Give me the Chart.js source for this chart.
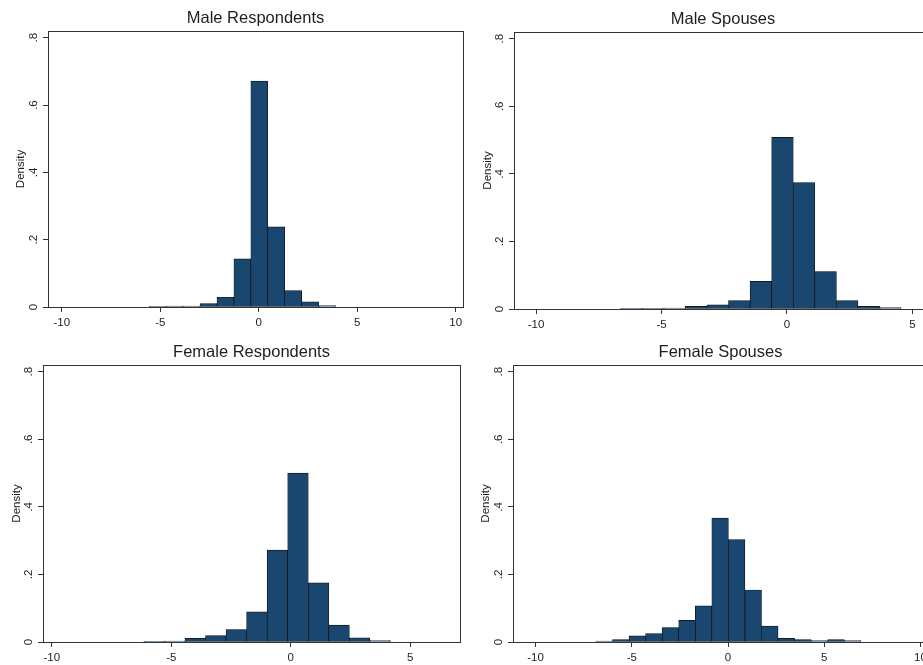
<!DOCTYPE html>
<html lang="en">
<head>
<meta charset="UTF-8">
<title>Density | Respondents and Spouses</title>
<script src="https://cdn.jsdelivr.net/npm/chart.js@4.4.1/dist/chart.umd.min.js"></script>
<style>
  html, body { margin: 0; padding: 0; background: #fff; overflow: hidden; }
  body { width: 923px; height: 665px; position: relative; }
  canvas { position: absolute; }
</style>
</head>
<body>

<canvas id="chart1"></canvas>
<canvas id="chart2"></canvas>
<canvas id="chart3"></canvas>
<canvas id="chart4"></canvas>

<script>
// eixos comuns
const xTickValues = [-10, -5, 0, 5, 10];
const yTickValues = [0, 0.2, 0.4, 0.6, 0.8];
const yTickLabels = ['0', '.2', '.4', '.6', '.8'];

// Male Respondents - centro das classes e densidade
const maleRespX = [-5.13, -4.27, -3.41, -2.55, -1.69, -0.83, 0.03, 0.89, 1.75, 2.61, 3.47];
const maleRespY = [0.002, 0.003, 0.003, 0.010, 0.029, 0.143, 0.671, 0.238, 0.049, 0.015, 0.004];

// Male Spouses
const maleSpX = [-6.20, -5.34, -4.48, -3.62, -2.76, -1.90, -1.04, -0.18, 0.68, 1.54, 2.40, 3.26, 4.12];
const maleSpY = [0.002, 0.002, 0.003, 0.008, 0.012, 0.025, 0.082, 0.508, 0.374, 0.111, 0.025, 0.008, 0.004];

// Female Respondents
const femRespX = [-5.72, -4.86, -4.00, -3.14, -2.28, -1.42, -0.56, 0.30, 1.16, 2.02, 2.88, 3.74];
const femRespY = [0.002, 0.003, 0.011, 0.019, 0.037, 0.089, 0.272, 0.500, 0.175, 0.050, 0.012, 0.004];

// Female Spouses
const femSpX = [-6.43, -5.57, -4.71, -3.85, -2.99, -2.13, -1.27, -0.41, 0.45, 1.31, 2.17, 3.03, 3.89, 4.75, 5.61, 6.47];
const femSpY = [0.003, 0.007, 0.018, 0.025, 0.043, 0.064, 0.107, 0.367, 0.303, 0.154, 0.047, 0.011, 0.007, 0.004, 0.007, 0.004];

const corBarra = '#1a476f';
const corBorda = '#0d0d0d';
const corEixo = '#333333';
const corTexto = '#1e1e1e';
const fonte = "'Liberation Sans', Arial, sans-serif";

// posicao de cada painel na pagina (canvas) e da area do grafico
const paineis = [
  { id: 'chart1', titulo: 'Male Respondents', xs: maleRespX, ys: maleRespY,
    left: 0, top: 0, w: 470, h: 330, area: [48, 31, 463, 307], xMin: -10.70, xMax: 10.37, densX: 20.5 },
  { id: 'chart2', titulo: 'Male Spouses', xs: maleSpX, ys: maleSpY,
    left: 460, top: 0, w: 480, h: 330, area: [514, 32, 932, 309], xMin: -10.88, xMax: 5.78, densX: 28 },
  { id: 'chart3', titulo: 'Female Respondents', xs: femRespX, ys: femRespY,
    left: 0, top: 330, w: 470, h: 335, area: [43, 365, 460, 642], xMin: -10.37, xMax: 7.08, densX: 17.2 },
  { id: 'chart4', titulo: 'Female Spouses', xs: femSpX, ys: femSpY,
    left: 460, top: 330, w: 480, h: 335, area: [513, 365, 928, 642], xMin: -11.17, xMax: 10.39, densX: 26.2 }
];

// moldura em volta da area de plotagem (estilo Stata)
const moldura = {
  id: 'moldura',
  afterDraw(chart) {
    const { ctx, chartArea: a } = chart;
    ctx.save();
    ctx.strokeStyle = corEixo;
    ctx.lineWidth = 1;
    ctx.strokeRect(Math.round(a.left) + 0.5, Math.round(a.top) + 0.5,
      Math.round(a.right - a.left), Math.round(a.bottom - a.top));
    ctx.restore();
  }
};

function plotarPainel(p) {
  const canvas = document.getElementById(p.id);
  canvas.width = p.w;
  canvas.height = p.h;
  canvas.style.left = p.left + 'px';
  canvas.style.top = p.top + 'px';
  canvas.style.width = p.w + 'px';
  canvas.style.height = p.h + 'px';

  const [aL, aT, aR, aB] = p.area;
  const larguraY = aL - p.left;
  const alturaX = p.h - (aB - p.top);
  const blocoTitulo = aT - p.top;
  const linhaTitulo = 16.5 * 1.2;

  const dados = {
    datasets: [{
      label: p.titulo,
      data: p.xs.map((x, i) => ({ x: x, y: p.ys[i] })),
      backgroundColor: corBarra,
      borderColor: corBorda,
      borderWidth: 0.7,
      borderSkipped: false,
      barPercentage: 1,
      categoryPercentage: 1
    }]
  };

  const config = {
    type: 'bar',
    data: dados,
    plugins: [moldura],
    options: {
      responsive: false,
      animation: false,
      layout: { padding: { left: 0, top: 0, bottom: 0, right: p.w - (aR - p.left) } },
      plugins: {
        legend: { display: false },
        tooltip: { enabled: false },
        title: {
          display: true,
          text: p.titulo,
          fullSize: false,
          color: corTexto,
          font: { family: fonte, size: 16.5, weight: 'normal', lineHeight: 1.2 },
          padding: { top: blocoTitulo - linhaTitulo - 2.6, bottom: 2.6 }
        }
      },
      scales: {
        x: {
          type: 'linear',
          offset: false,
          min: p.xMin,
          max: p.xMax,
          afterBuildTicks: (s) => {
            s.ticks = xTickValues.filter(v => v >= p.xMin && v <= p.xMax).map(v => ({ value: v }));
          },
          afterFit: (s) => { s.height = alturaX; },
          grid: { offset: false, drawOnChartArea: false, drawTicks: true, tickLength: 5, color: corEixo, lineWidth: 1 },
          border: { display: true, color: corEixo, width: 1 },
          ticks: {
            color: corTexto,
            padding: 3.6,
            maxRotation: 0,
            autoSkip: false,
            font: { family: fonte, size: 11.5 },
            callback: (v) => String(v)
          }
        },
        y: {
          type: 'linear',
          min: 0,
          max: 0.82,
          afterBuildTicks: (s) => {
            s.ticks = yTickValues.map(v => ({ value: v }));
          },
          afterFit: (s) => { s.width = larguraY; },
          grid: { drawOnChartArea: false, drawTicks: true, tickLength: 5, color: corEixo, lineWidth: 1 },
          border: { display: true, color: corEixo, width: 1 },
          ticks: {
            color: corTexto,
            padding: 4,
            minRotation: 90,
            maxRotation: 90,
            crossAlign: 'center',
            font: { family: fonte, size: 11.5 },
            callback: (v) => {
              const i = yTickValues.indexOf(v);
              return i >= 0 ? yTickLabels[i] : '';
            }
          },
          title: {
            display: true,
            text: 'Density',
            color: corTexto,
            font: { family: fonte, size: 11.5, lineHeight: 1.2 },
            padding: { top: p.densX - 6.9, bottom: 0 }
          }
        }
      }
    }
  };

  return new Chart(canvas, config);
}

paineis.forEach(plotarPainel);
</script>
</body>
</html>
